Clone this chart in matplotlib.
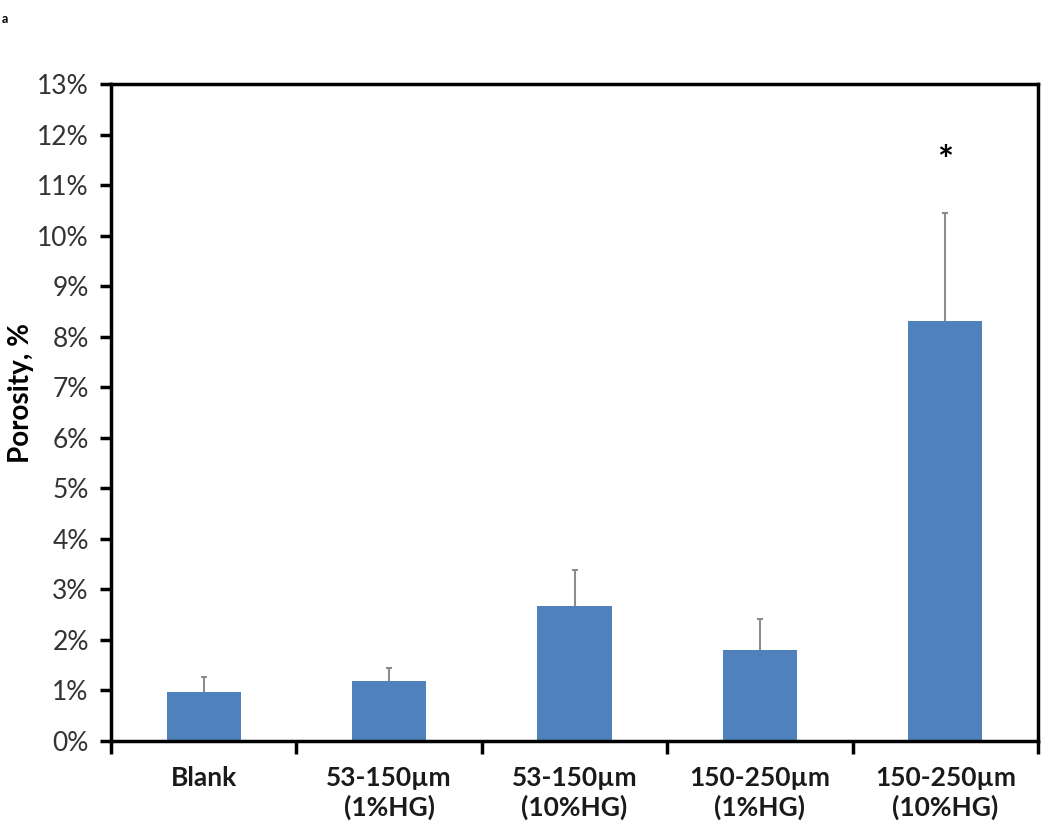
import numpy as np
import matplotlib.pyplot as plt
from matplotlib.ticker import FuncFormatter, FixedLocator

categorias = ["Blank", "53-150µm\n(1%HG)", "53-150µm\n(10%HG)", "150-250µm\n(1%HG)", "150-250µm\n(10%HG)"]
porosidade = [0.97, 1.19, 2.67, 1.81, 8.31]
erro = [0.29, 0.25, 0.71, 0.61, 2.14]
asterisco_y = 11.45

plt.rcParams['font.family'] = ['Lato', 'DejaVu Sans']

fig = plt.figure(figsize=(10.5, 8.34), dpi=100)
ax = fig.add_axes([0.1057, 0.1115, 0.8829, 0.7878])

x = np.arange(len(categorias))
ax.bar(x, porosidade, width=0.4, color="#4F81BD", zorder=2)
_, caps, _ = ax.errorbar(x, porosidade, yerr=[np.zeros(len(erro)), erro], fmt="none",
                         ecolor="#8c8c8c", elinewidth=1.5, capsize=2, capthick=1.5, zorder=3)
caps[0].set_visible(False)  # sem traço no topo da barra
ax.text(x[-1], asterisco_y, "*", ha="center", va="center", fontsize=27, fontweight="bold")

ax.set_xlim(-0.5, len(categorias) - 0.5)
ax.set_ylim(0, 13)
ax.set_yticks(np.arange(0, 14, 1))
ax.yaxis.set_major_formatter(FuncFormatter(lambda v, p: f"{int(v)}%"))

ax.set_xticks(x)
ax.set_xticklabels(categorias, fontweight="bold", fontsize=19, color="#1a1a1a")
ax.xaxis.set_minor_locator(FixedLocator(np.arange(-0.5, len(categorias), 1)))
ax.tick_params(axis="x", which="major", length=0, pad=18)
ax.tick_params(axis="x", which="minor", length=9, width=2.5, direction="out")
ax.tick_params(axis="y", length=8, width=2.5, direction="out", labelsize=19,
               labelcolor="#333333", pad=8)

for s in ax.spines.values():
    s.set_linewidth(2.5)

ax.set_ylabel("Porosity, %", fontweight="bold", fontsize=20)
ax.yaxis.set_label_coords(-0.083, 0.53)
fig.text(0.002, 0.985, "a", fontsize=9, fontweight="bold", va="top")

fig.savefig("out.png", dpi=100)
